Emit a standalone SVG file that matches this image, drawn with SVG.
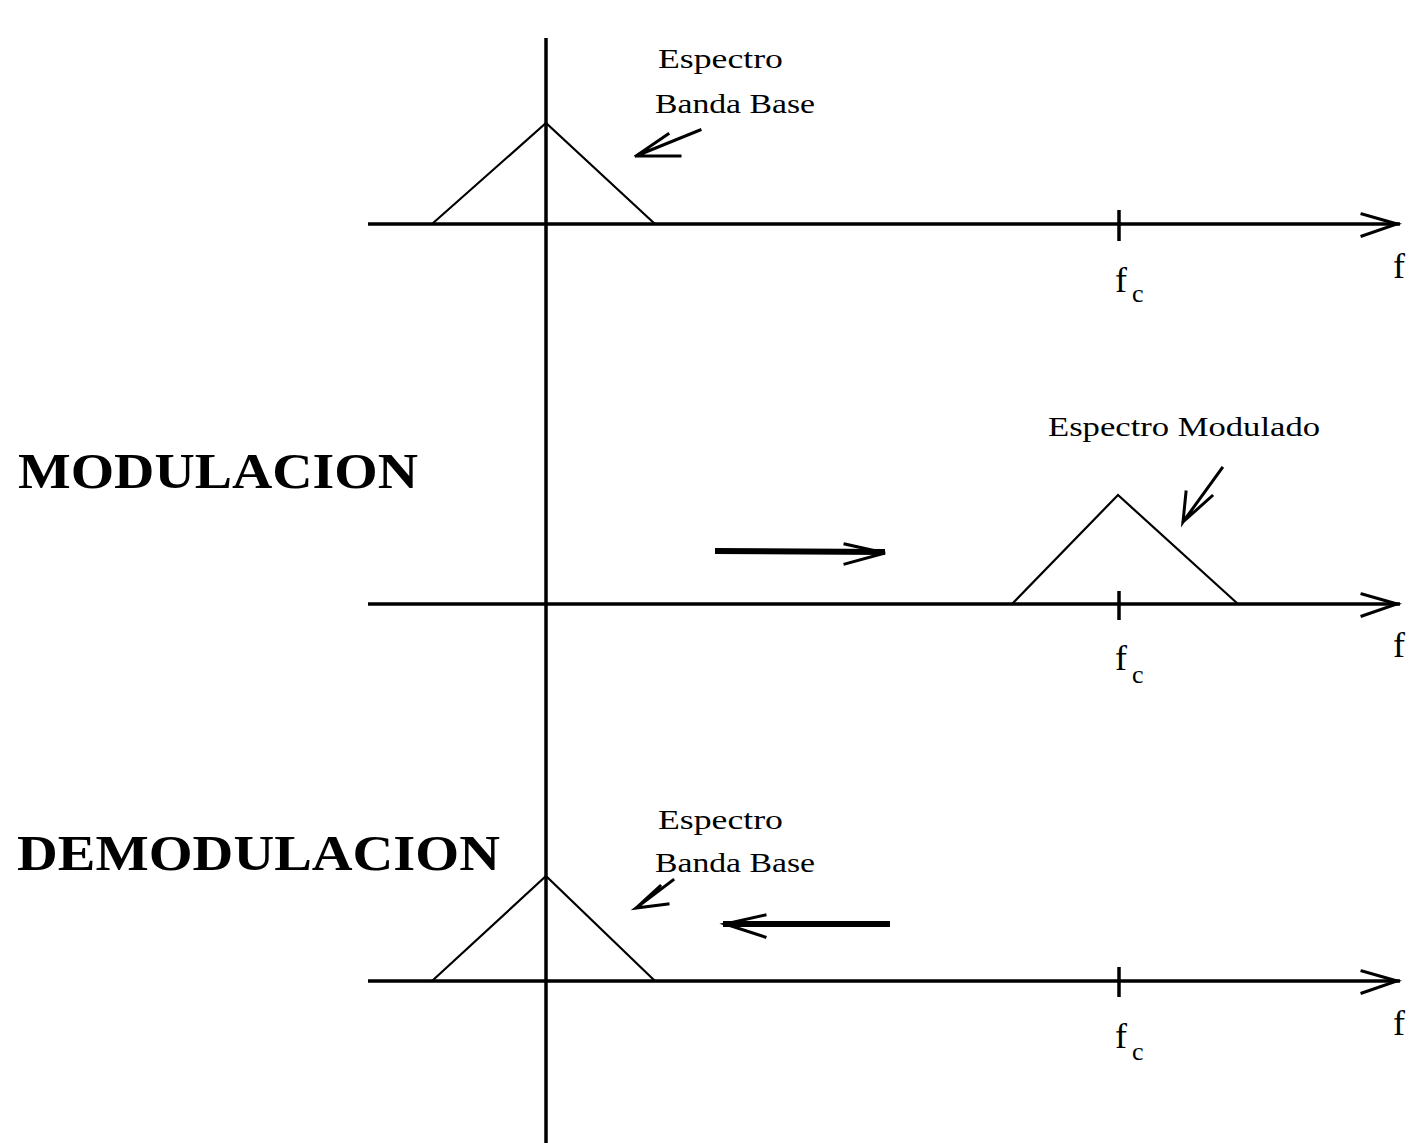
<svg xmlns="http://www.w3.org/2000/svg" width="1409" height="1143" viewBox="0 0 1409 1143">
<style>
.ax{stroke:#000;stroke-width:3.5;fill:none}
.tri{stroke:#000;stroke-width:2.2;fill:none}
.ar{stroke:#000;stroke-width:3;fill:none;stroke-linecap:square}
.big{stroke:#000;stroke-width:6;fill:none}
.sm{font-family:"Liberation Serif",serif;font-size:28px;fill:#000}
.lbl{font-family:"Liberation Serif",serif;font-size:51px;font-weight:bold;fill:#000}
.f{font-family:"Liberation Serif",serif;font-size:36px;fill:#000}
.c{font-family:"Liberation Serif",serif;font-size:26px;fill:#000}
</style>
<rect width="1409" height="1143" fill="#fff"/>
<g id="connectors">
<line class="ax" x1="546" y1="38" x2="546" y2="1143"/>
<line class="ax" x1="368" y1="224" x2="1400" y2="224"/>
<line class="ax" x1="368" y1="604" x2="1400" y2="604"/>
<line class="ax" x1="368" y1="981" x2="1400" y2="981"/>
<path class="ar" d="M1362,214 L1397,224 L1362,236"/>
<path class="ar" d="M1362,594 L1397,604 L1362,616"/>
<path class="ar" d="M1362,971 L1397,981 L1362,993"/>
<line class="ax" x1="1119" y1="210" x2="1119" y2="241"/>
<line class="ax" x1="1119" y1="591" x2="1119" y2="620"/>
<line class="ax" x1="1119" y1="967" x2="1119" y2="997"/>
<path class="big" d="M715,551 L885,552"/>
<path class="ar" d="M845,544 L885,553 L845,564"/>
<path class="big" d="M890,924 L723,924"/>
<path class="ar" d="M765,915 L725,924 L765,937"/>
<path class="ar" d="M700,130 L636,156 L680,156 M636,156 L668,134"/>
<path class="ar" d="M1222,468 L1183,522 L1186,492 M1183,522 L1212,496"/>
<path class="ar" d="M673,880 L636,908 L668,904 M636,908 L660,886"/>
</g>
<g id="spectrum1">
<path class="tri" d="M432,224 L546,123 L655,224"/>
</g>
<g id="spectrum2">
<path class="tri" d="M1012,604 L1118,495 L1238,604"/>
</g>
<g id="spectrum3">
<path class="tri" d="M432,981 L546,876 L655,981"/>
</g>
<g id="labels">
<text class="sm" x="658" y="68" textLength="125" lengthAdjust="spacingAndGlyphs">Espectro</text>
<text class="sm" x="655" y="113" textLength="160" lengthAdjust="spacingAndGlyphs">Banda Base</text>
<text class="sm" x="1048" y="436" textLength="272" lengthAdjust="spacingAndGlyphs">Espectro Modulado</text>
<text class="sm" x="658" y="829" textLength="125" lengthAdjust="spacingAndGlyphs">Espectro</text>
<text class="sm" x="655" y="872" textLength="160" lengthAdjust="spacingAndGlyphs">Banda Base</text>
<text class="lbl" x="18" y="488" textLength="400" lengthAdjust="spacingAndGlyphs">MODULACION</text>
<text class="lbl" x="17" y="870" textLength="483" lengthAdjust="spacingAndGlyphs">DEMODULACION</text>
<text class="f" x="1393" y="278">f</text>
<text class="f" x="1393" y="657">f</text>
<text class="f" x="1393" y="1035">f</text>
<text class="f" x="1115" y="292">f</text><text class="c" x="1132" y="302">c</text>
<text class="f" x="1115" y="670">f</text><text class="c" x="1132" y="683">c</text>
<text class="f" x="1115" y="1048">f</text><text class="c" x="1132" y="1060">c</text>
</g>
</svg>
